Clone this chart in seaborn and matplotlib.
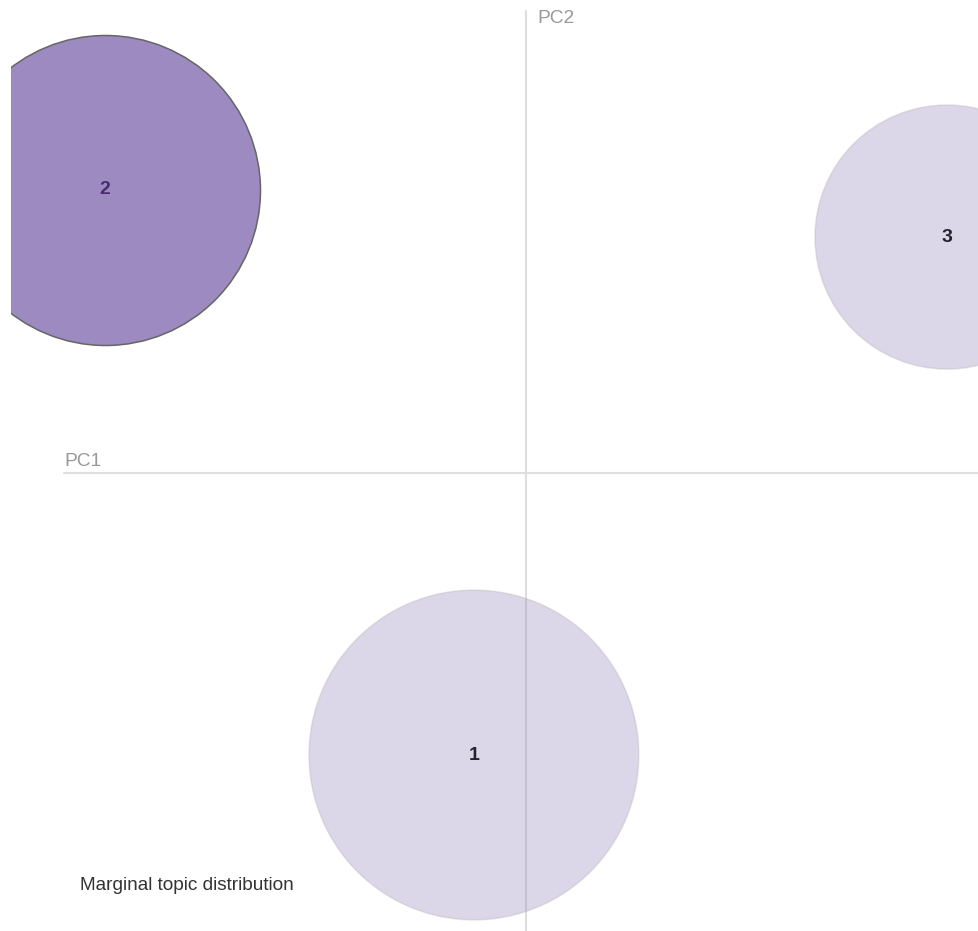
import numpy as np
import pandas as pd
import matplotlib
matplotlib.use("Agg")
import matplotlib.pyplot as plt
import seaborn as sns

# Intertopic distance map: topic centres on the first two principal components
topics = [1, 2, 3]
pc1 = [-0.0347, -0.2807, 0.2807]
pc2 = [-0.1880, 0.1887, 0.1573]
# Marginal topic distribution (% of tokens) -> circle area
freq = [39.6, 35.0, 25.4]
selected_topic = 2

axis_labels = ["PC1", "PC2"]
caption = "Marginal topic distribution"

sns.set_theme(style="white")
plt.rcParams["font.family"] = ["Liberation Sans", "DejaVu Sans"]

df = pd.DataFrame({"topic": topics, "PC1": pc1, "PC2": pc2, "freq": freq})

W, H, DPI = 979, 931, 100
fig = plt.figure(figsize=(W / DPI, H / DPI), dpi=DPI)
left_px = 11
ax = fig.add_axes([left_px / W, 0, (W - left_px) / W, 1])

# 1500 pixels per PC unit, origin at pixel (526, 473)
scale = 1500.0
ox, oy = 526, 473
ax.set_xlim((left_px - ox) / scale, (W - ox) / scale)
ax.set_ylim((oy - H) / scale, oy / scale)
ax.set_axis_off()

# Axis cross-hairs
ext = 0.308
ax.plot([-ext, 1.0], [0, 0], color="#dedede", lw=1.5, zorder=1)
ax.plot([0, 0], [-1.0, ext], color="#dedede", lw=1.5, zorder=1)
ax.text(-ext, 0.0047, axis_labels[0], color="#999999", fontsize=13.8,
        ha="left", va="baseline")
ax.text(0.0073, 0.3033, axis_labels[1], color="#999999", fontsize=13.8,
        ha="left", va="center")

# Circle area proportional to marginal frequency
px_per_sqrt = 262.0                       # radius in px for a 100% topic
pt_per_px = 72.0 / DPI
s_full = (2 * px_per_sqrt * pt_per_px) ** 2
size_kw = dict(size="freq", size_norm=(0, 100), sizes=(0, s_full), legend=False)

base = "#9c8ac0"
others = df[df["topic"] != selected_topic]
chosen = df[df["topic"] == selected_topic]
sns.scatterplot(data=others, x="PC1", y="PC2", ax=ax, color=base, alpha=0.35,
                edgecolor="#b4b4b4", linewidth=1.1, zorder=2, **size_kw)
sns.scatterplot(data=chosen, x="PC1", y="PC2", ax=ax, color=base, alpha=1.0,
                edgecolor="#666666", linewidth=1.1, zorder=3, **size_kw)

for _, r in df.iterrows():
    col = "#4a2e70" if r["topic"] == selected_topic else "#25222e"
    ax.text(r["PC1"], r["PC2"], str(int(r["topic"])), ha="center", va="center",
            fontsize=14, fontweight="bold", color=col, zorder=4)

fig.text(80 / W, 1 - 885 / H, caption, color="#333333", fontsize=13.7,
         ha="left", va="center")

fig.savefig("out.png", dpi=DPI)
